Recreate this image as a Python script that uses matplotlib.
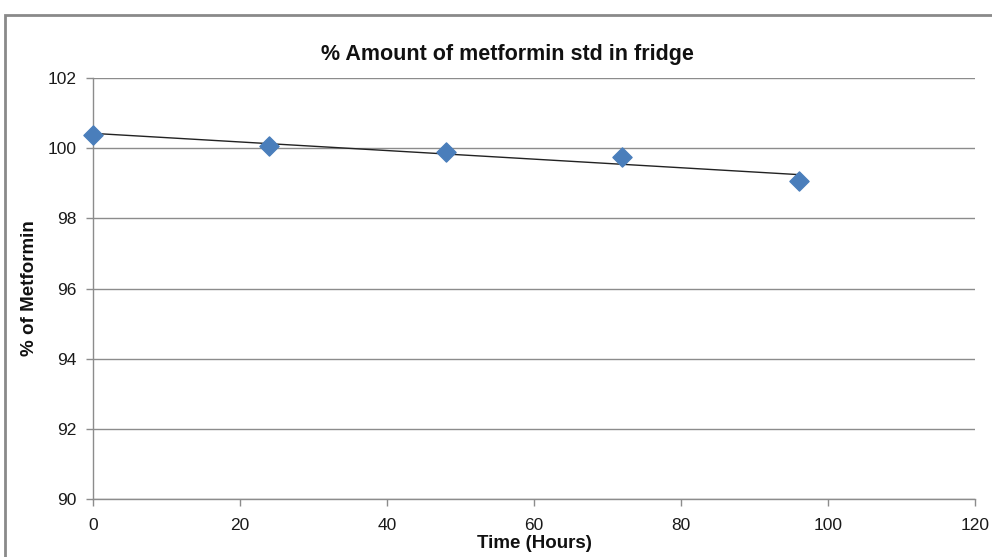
import numpy as np
import matplotlib
matplotlib.use("Agg")
import matplotlib.pyplot as plt
from matplotlib.patches import Rectangle

# Data
time_hours = [0, 24, 48, 72, 96]
pct_metformin = [100.38, 100.07, 99.90, 99.75, 99.07]
x_ticks = [0, 20, 40, 60, 80, 100, 120]
y_ticks = [90, 92, 94, 96, 98, 100, 102]
title = "% Amount of metformin std in fridge"
xlabel = "Time (Hours)"
ylabel = "% of Metformin"

plt.rcParams['font.family'] = ['Liberation Sans', 'DejaVu Sans']

fig = plt.figure(figsize=(9.92, 5.57), dpi=100)
ax = fig.add_axes([93/992, 1-499/557, (975-93)/992, (499-78)/557])

# Figure border (chart area frame)
fig.patches.append(Rectangle((5/992, -0.2), 1.2, 1.2 - 15/557, transform=fig.transFigure,
                             fill=False, edgecolor='#8a8a8a', linewidth=2, zorder=0))

ax.set_xlim(0, 120)
ax.set_ylim(90, 102)
ax.set_xticks(x_ticks)
ax.set_yticks(y_ticks)
ax.yaxis.grid(True, color='#8c8c8c', linewidth=1)
ax.set_axisbelow(True)

# Linear trendline
coef = np.polyfit(time_hours, pct_metformin, 1)
xt = np.array([time_hours[0], time_hours[-1]])
ax.plot(xt, np.polyval(coef, xt), color='#222222', linewidth=1, zorder=3)

ax.scatter(time_hours, pct_metformin, marker='D', s=95, color='#4a7ebb', edgecolors='#4a7ebb', zorder=4, clip_on=False)

for s in ['top', 'right']:
    ax.spines[s].set_visible(False)
for s in ['left', 'bottom']:
    ax.spines[s].set_color('#8c8c8c')
    ax.spines[s].set_linewidth(1)

ax.tick_params(axis='both', colors='#8c8c8c', labelcolor='#1a1a1a', labelsize=12.5, length=5, width=1)
ax.tick_params(axis='x', pad=9)
ax.tick_params(axis='y', pad=7)

ax.set_title(title, fontsize=15.5, fontweight='bold', pad=13, color='#111111', x=(507-93)/882)
ax.set_xlabel(xlabel, fontsize=13.5, fontweight='bold', labelpad=1, color='#111111')
ax.set_ylabel(ylabel, fontsize=13.5, fontweight='bold', labelpad=7, color='#111111')

fig.savefig("out.png", dpi=100)
